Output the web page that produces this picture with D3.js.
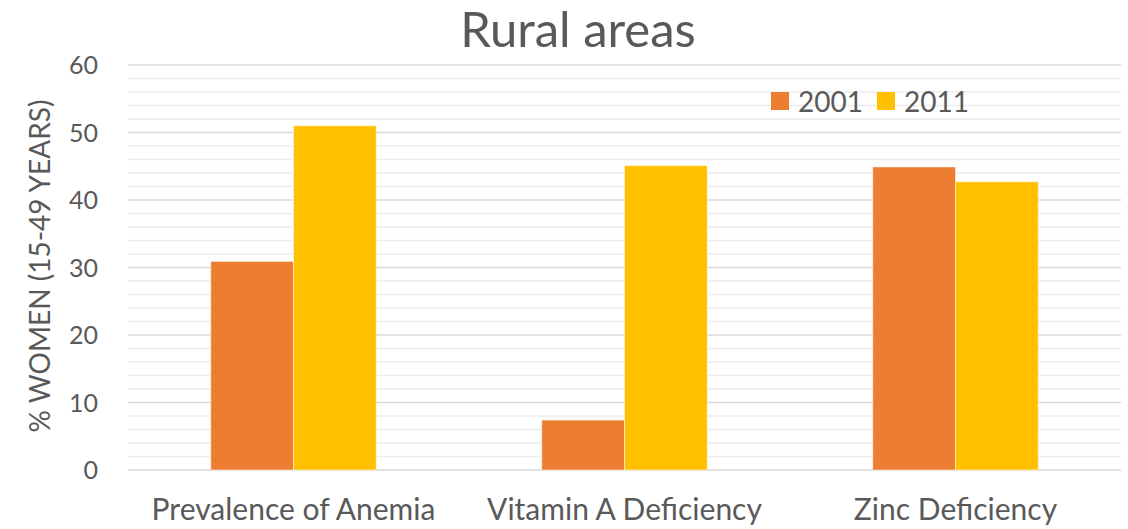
<!DOCTYPE html>
<html>
<head>
<meta charset="utf-8">
<script src="https://cdn.jsdelivr.net/npm/d3@7"></script>
<style>
  body { margin: 0; background: #fff; }
  text { font-family: Lato, "Open Sans", sans-serif; fill: #595959; }
</style>
</head>
<body>
<svg id="chart" width="1128" height="529"></svg>
<script>
const categories = ["Prevalence of Anemia", "Vitamin A Deficiency", "Zinc Deficiency"]
const seriesNames = ["2001", "2011"]
const values2001 = [30.9, 7.4, 44.9]
const values2011 = [51.0, 45.1, 42.7]
const yTicks = [0, 10, 20, 30, 40, 50, 60]
const colors = ["#ED7D31", "#FFC000"]

const svg = d3.select("#chart")
const plotLeft = 128, plotRight = 1121, plotTop = 65, plotBottom = 470

const x0 = d3.scaleBand()
  .domain(categories)
  .range([plotLeft, plotRight])
  .paddingInner(0.5)
  .paddingOuter(0.25)

const x1 = d3.scaleBand()
  .domain(seriesNames)
  .range([0, x0.bandwidth()])

const y = d3.scaleLinear().domain([0, 60]).range([plotBottom, plotTop])

// minor gridlines every 2
svg.append("g")
  .selectAll("line")
  .data(d3.range(2, 60, 2).filter(v => v % 10 != 0))
  .join("line")
  .attr("x1", plotLeft).attr("x2", plotRight)
  .attr("y1", d => y(d)).attr("y2", d => y(d))
  .attr("stroke", "#EDEDED")
  .attr("stroke-width", 1.5)

// major gridlines
svg.append("g")
  .selectAll("line")
  .data(yTicks)
  .join("line")
  .attr("x1", plotLeft).attr("x2", plotRight)
  .attr("y1", d => y(d)).attr("y2", d => y(d))
  .attr("stroke", "#D9D9D9")
  .attr("stroke-width", 1.5)

// y axis tick labels
const yAxis = svg.append("g")
  .attr("transform", `translate(${plotLeft - 30},0)`)
  .call(d3.axisLeft(y).tickValues(yTicks).tickSize(0).tickPadding(0))
yAxis.select(".domain").remove()
yAxis.selectAll("text")
  .style("font-size", "25px")
  .attr("dy", "0.35em")

// bars
const rows = categories.map((c, i) => ({ cat: c, vals: [values2001[i], values2011[i]] }))
const groups = svg.append("g")
  .selectAll("g")
  .data(rows)
  .join("g")
  .attr("transform", d => `translate(${x0(d.cat)},0)`)

groups.selectAll("rect")
  .data(d => d.vals.map((v, j) => ({ key: seriesNames[j], v: v, j: j })))
  .join("rect")
  .attr("x", d => x1(d.key))
  .attr("width", x1.bandwidth())
  .attr("y", d => y(d.v))
  .attr("height", d => y(0) - y(d.v))
  .attr("fill", d => colors[d.j])
  .attr("stroke", "#fff")
  .attr("stroke-opacity", 0.5)
  .attr("stroke-width", 1)

// x axis labels
const xAxis = svg.append("g")
  .attr("transform", `translate(0,${plotBottom})`)
  .call(d3.axisBottom(x0).tickSize(0).tickPadding(29))
xAxis.select(".domain").remove()
xAxis.selectAll("text")
  .style("font-size", "30px")

// y axis title
svg.append("text")
  .attr("transform", "translate(50,266) rotate(-90)")
  .attr("text-anchor", "middle")
  .style("font-size", "28px")
  .text("% WOMEN (15-49 YEARS)")

// title
svg.append("text")
  .attr("x", 578)
  .attr("y", 47)
  .attr("text-anchor", "middle")
  .style("font-size", "49px")
  .text("Rural areas")

// legend
const legend = svg.append("g")
  .selectAll("g")
  .data(seriesNames)
  .join("g")
  .attr("transform", (d, i) => `translate(${771 + i * 106},92)`)
legend.append("rect")
  .attr("width", 18).attr("height", 18)
  .attr("fill", (d, i) => colors[i])
legend.append("text")
  .attr("x", 27).attr("y", 19.5)
  .style("font-size", "28px")
  .text(d => d)
</script>
</body>
</html>
